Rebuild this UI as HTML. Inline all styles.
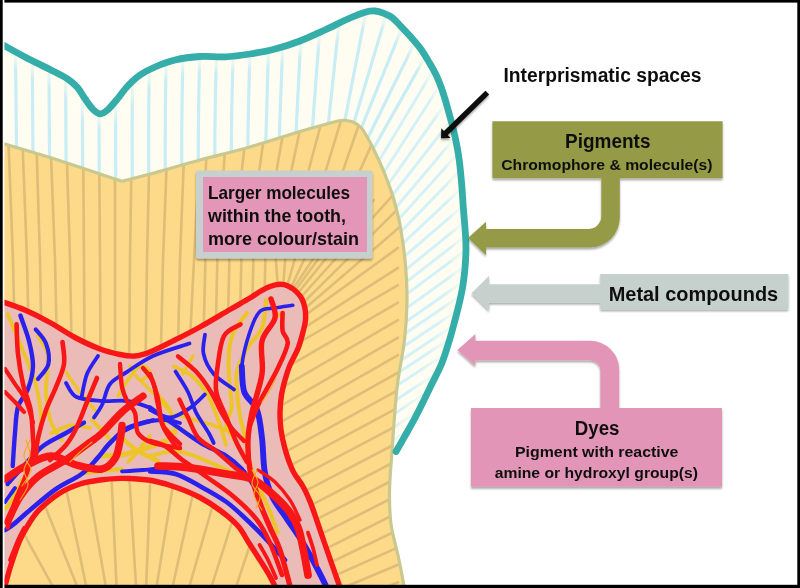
<!DOCTYPE html>
<html><head><meta charset="utf-8"><title>Tooth staining diagram</title>
<style>html,body{margin:0;padding:0;background:#fff}svg{display:block}text{font-family:"Liberation Sans",sans-serif;font-weight:bold;fill:#111}</style></head>
<body>
<svg width="800" height="588" viewBox="0 0 800 588">
<defs>
<clipPath id="cE"><path d="M3.0,45.0 C6.7,47.0 17.2,52.9 25.0,57.0 C32.8,61.1 42.9,65.9 50.0,69.5 C57.1,73.1 62.9,75.8 67.5,78.8 C72.1,81.8 74.6,84.2 77.5,87.5 C80.4,90.8 82.5,95.2 85.0,98.8 C87.5,102.3 90.0,106.3 92.5,108.8 C95.0,111.3 97.5,113.6 100.0,113.8 C102.5,114.0 104.6,112.5 107.5,110.0 C110.4,107.5 114.2,102.8 117.5,98.8 C120.8,94.8 123.8,90.3 127.5,86.3 C131.2,82.3 135.4,78.2 140.0,75.0 C144.6,71.8 149.2,69.5 155.0,67.0 C160.8,64.5 167.5,61.8 175.0,60.0 C182.5,58.2 191.7,57.0 200.0,56.5 C208.3,56.0 216.7,57.2 225.0,56.8 C233.3,56.4 241.7,55.3 250.0,54.0 C258.3,52.7 266.7,51.2 275.0,49.0 C283.3,46.8 291.7,44.2 300.0,41.0 C308.3,37.8 316.7,33.8 325.0,30.0 C333.3,26.2 343.3,20.9 350.0,18.0 C356.7,15.1 360.8,13.5 365.0,12.3 C369.2,11.1 371.9,10.8 375.0,11.0 C378.1,11.2 380.6,12.1 383.4,13.2 C386.2,14.3 389.2,15.4 392.0,17.5 C394.8,19.6 397.3,22.6 400.4,25.8 C403.5,29.0 407.1,32.8 410.6,36.8 C414.1,40.8 418.4,45.6 421.5,50.0 C424.6,54.4 427.1,58.9 429.5,63.0 C431.9,67.1 434.1,70.8 436.0,74.8 C437.9,78.8 439.5,82.7 441.0,86.7 C442.5,90.7 443.6,94.3 445.0,99.0 C446.4,103.7 448.0,109.5 449.5,115.0 C451.0,120.5 452.5,125.3 454.0,132.0 C455.5,138.7 457.2,146.7 458.5,155.0 C459.8,163.3 460.7,172.8 461.5,182.0 C462.3,191.2 462.8,201.2 463.5,210.0 C464.2,218.8 465.1,228.3 465.5,235.0 C465.9,241.7 466.1,244.5 466.0,250.0 C465.9,255.5 465.5,262.2 465.0,268.0 C464.5,273.8 463.8,279.7 463.0,285.0 C462.2,290.3 461.3,294.2 460.0,300.0 C458.7,305.8 456.8,313.3 455.0,320.0 C453.2,326.7 451.8,332.7 449.5,340.0 C447.2,347.3 444.8,356.1 441.5,364.0 C438.2,371.9 434.2,378.9 430.0,387.6 C425.8,396.3 420.3,407.7 416.0,416.0 C411.7,424.3 407.3,431.7 404.0,437.6 C400.7,443.5 397.3,449.2 396.0,451.5 L392,455 L392,600 L0,600 Z"/></clipPath>
<clipPath id="cD"><path d="M3.0,143.5 C10.8,145.8 33.8,152.4 50.0,157.5 C66.2,162.6 88.7,170.2 100.0,174.0 C111.3,177.8 114.3,178.8 118.0,180.0 C121.7,181.2 120.5,181.0 122.0,181.0 C123.5,181.0 122.3,181.2 127.0,180.0 C131.7,178.8 137.8,177.3 150.0,174.0 C162.2,170.7 183.3,164.5 200.0,160.0 C216.7,155.5 233.3,151.8 250.0,147.0 C266.7,142.2 287.5,135.2 300.0,131.5 C312.5,127.8 318.7,126.2 325.0,124.5 C331.3,122.8 334.5,121.7 338.0,121.0 C341.5,120.3 343.3,120.2 346.0,120.5 C348.7,120.8 351.5,121.3 354.0,122.5 C356.5,123.7 359.0,125.4 361.0,127.5 C363.0,129.6 364.2,131.9 366.0,135.0 C367.8,138.1 369.2,140.3 372.0,146.0 C374.8,151.7 379.7,162.0 382.7,169.0 C385.7,176.0 388.1,182.8 390.0,188.0 C391.9,193.2 392.3,193.8 394.0,200.0 C395.7,206.2 398.2,215.0 400.0,225.0 C401.8,235.0 403.8,247.5 405.0,260.0 C406.2,272.5 407.1,286.7 407.0,300.0 C406.9,313.3 406.2,325.3 404.5,340.0 C402.8,354.7 399.1,369.3 397.0,388.0 C394.9,406.7 393.2,435.0 392.0,452.0 C390.8,469.0 389.7,478.0 389.5,490.0 C389.3,502.0 389.5,512.7 391.0,524.0 C392.5,535.3 396.4,547.7 398.6,558.0 C400.8,568.3 403.1,581.3 404.0,586.0 L404,600 L0,600 Z"/></clipPath>
<clipPath id="cP"><path d="M3.0,302.0 C6.7,303.3 17.2,306.6 25.0,310.0 C32.8,313.4 41.7,317.9 50.0,322.5 C58.3,327.1 66.7,333.1 75.0,337.5 C83.3,341.9 92.5,346.2 100.0,349.0 C107.5,351.8 114.2,353.3 120.0,354.5 C125.8,355.7 130.0,356.4 135.0,356.0 C140.0,355.6 143.3,354.7 150.0,352.0 C156.7,349.3 166.7,344.2 175.0,340.0 C183.3,335.8 190.8,332.1 200.0,327.0 C209.2,321.9 221.7,314.3 230.0,309.5 C238.3,304.7 245.0,301.0 250.0,298.0 C255.0,295.0 256.7,293.4 260.0,291.5 C263.3,289.6 266.7,287.7 270.0,286.5 C273.3,285.3 277.0,284.4 280.0,284.3 C283.0,284.2 285.3,284.8 288.0,286.0 C290.7,287.2 293.7,289.2 296.0,291.4 C298.3,293.6 300.5,296.1 302.0,299.0 C303.5,301.9 304.4,305.0 305.0,308.5 C305.6,312.0 305.8,316.1 305.5,320.0 C305.2,323.9 304.2,327.2 303.0,332.0 C301.8,336.8 300.2,343.0 298.0,348.5 C295.8,354.0 292.2,359.8 290.0,365.0 C287.8,370.2 286.4,375.0 285.0,380.0 C283.6,385.0 282.3,389.7 281.5,395.0 C280.7,400.3 280.1,406.2 280.0,412.0 C279.9,417.8 280.2,424.2 281.0,430.0 C281.8,435.8 283.2,442.0 284.5,447.0 C285.8,452.0 286.9,455.7 288.5,460.0 C290.1,464.3 291.6,468.7 294.0,473.0 C296.4,477.3 300.0,481.3 302.7,486.0 C305.4,490.7 307.6,495.6 310.0,501.4 C312.4,507.2 314.6,514.1 317.0,521.0 C319.4,527.9 322.0,535.7 324.5,543.0 C327.0,550.3 329.5,557.4 332.0,564.6 C334.5,571.8 338.2,582.4 339.5,586.0 L275,586 L275.0,586.0 C273.8,583.8 270.8,577.8 268.0,573.0 C265.2,568.2 261.3,562.2 258.0,557.0 C254.7,551.8 251.3,546.7 248.0,541.5 C244.7,536.3 242.5,531.1 238.0,526.0 C233.5,520.9 227.3,515.8 221.0,511.0 C214.7,506.2 207.2,501.3 200.0,497.5 C192.8,493.7 185.7,490.8 178.0,488.0 C170.3,485.2 161.8,482.6 154.0,481.0 C146.2,479.4 136.6,479.0 131.0,478.6 C125.4,478.2 125.7,478.2 120.5,478.4 C115.3,478.6 106.8,479.1 100.0,480.0 C93.2,480.9 86.7,481.8 80.0,484.0 C73.3,486.2 66.7,488.8 60.0,493.0 C53.3,497.2 45.0,504.2 40.0,509.0 C35.0,513.8 33.3,516.8 30.0,522.0 C26.7,527.2 23.2,532.8 20.0,540.0 C16.8,547.2 13.5,557.3 11.0,565.0 C8.5,572.7 6.0,582.5 5.0,586.0 L3,590 Z"/></clipPath>
<filter id="sh" x="-10%" y="-10%" width="120%" height="130%"><feGaussianBlur in="SourceAlpha" stdDeviation="1.2"/><feOffset dx="0" dy="1.5"/><feComponentTransfer><feFuncA type="linear" slope="0.35"/></feComponentTransfer><feMerge><feMergeNode/><feMergeNode in="SourceGraphic"/></feMerge></filter>
<filter id="bl"><feGaussianBlur stdDeviation="0.7"/></filter>
<filter id="bl3" x="-20%" y="-20%" width="140%" height="140%"><feGaussianBlur stdDeviation="3"/></filter>
<filter id="soft" x="0" y="0" width="100%" height="100%" filterUnits="userSpaceOnUse"><feGaussianBlur stdDeviation="0.45"/></filter>
</defs>
<rect width="800" height="588" fill="#fff"/>
<g filter="url(#soft)">
<path d="M3.0,45.0 C6.7,47.0 17.2,52.9 25.0,57.0 C32.8,61.1 42.9,65.9 50.0,69.5 C57.1,73.1 62.9,75.8 67.5,78.8 C72.1,81.8 74.6,84.2 77.5,87.5 C80.4,90.8 82.5,95.2 85.0,98.8 C87.5,102.3 90.0,106.3 92.5,108.8 C95.0,111.3 97.5,113.6 100.0,113.8 C102.5,114.0 104.6,112.5 107.5,110.0 C110.4,107.5 114.2,102.8 117.5,98.8 C120.8,94.8 123.8,90.3 127.5,86.3 C131.2,82.3 135.4,78.2 140.0,75.0 C144.6,71.8 149.2,69.5 155.0,67.0 C160.8,64.5 167.5,61.8 175.0,60.0 C182.5,58.2 191.7,57.0 200.0,56.5 C208.3,56.0 216.7,57.2 225.0,56.8 C233.3,56.4 241.7,55.3 250.0,54.0 C258.3,52.7 266.7,51.2 275.0,49.0 C283.3,46.8 291.7,44.2 300.0,41.0 C308.3,37.8 316.7,33.8 325.0,30.0 C333.3,26.2 343.3,20.9 350.0,18.0 C356.7,15.1 360.8,13.5 365.0,12.3 C369.2,11.1 371.9,10.8 375.0,11.0 C378.1,11.2 380.6,12.1 383.4,13.2 C386.2,14.3 389.2,15.4 392.0,17.5 C394.8,19.6 397.3,22.6 400.4,25.8 C403.5,29.0 407.1,32.8 410.6,36.8 C414.1,40.8 418.4,45.6 421.5,50.0 C424.6,54.4 427.1,58.9 429.5,63.0 C431.9,67.1 434.1,70.8 436.0,74.8 C437.9,78.8 439.5,82.7 441.0,86.7 C442.5,90.7 443.6,94.3 445.0,99.0 C446.4,103.7 448.0,109.5 449.5,115.0 C451.0,120.5 452.5,125.3 454.0,132.0 C455.5,138.7 457.2,146.7 458.5,155.0 C459.8,163.3 460.7,172.8 461.5,182.0 C462.3,191.2 462.8,201.2 463.5,210.0 C464.2,218.8 465.1,228.3 465.5,235.0 C465.9,241.7 466.1,244.5 466.0,250.0 C465.9,255.5 465.5,262.2 465.0,268.0 C464.5,273.8 463.8,279.7 463.0,285.0 C462.2,290.3 461.3,294.2 460.0,300.0 C458.7,305.8 456.8,313.3 455.0,320.0 C453.2,326.7 451.8,332.7 449.5,340.0 C447.2,347.3 444.8,356.1 441.5,364.0 C438.2,371.9 434.2,378.9 430.0,387.6 C425.8,396.3 420.3,407.7 416.0,416.0 C411.7,424.3 407.3,431.7 404.0,437.6 C400.7,443.5 397.3,449.2 396.0,451.5 L392,455 L392,600 L0,600 Z" fill="#FFFDF1"/>
<g clip-path="url(#cE)" stroke="#C8EDF6" stroke-width="3.2" fill="none" stroke-linecap="round" filter="url(#bl)">
<path d="M17.0,200 Q16.0,120 15.3,30"/>
<path d="M33.5,200 Q32.5,120 32.2,30"/>
<path d="M50.0,200 Q49.0,120 49.0,30"/>
<path d="M66.5,200 Q65.5,120 65.8,30"/>
<path d="M83.0,200 Q82.0,120 82.7,30"/>
<path d="M99.5,200 Q98.5,120 99.5,30"/>
<path d="M116.0,200 Q115.0,120 116.3,30"/>
<path d="M132.5,200 Q131.5,120 133.2,30"/>
<path d="M149.0,200 Q148.0,120 150.0,30"/>
<path d="M165.5,200 Q164.5,120 166.8,30"/>
<path d="M182.0,200 Q181.0,120 183.6,30"/>
<path d="M198.5,200 Q197.5,120 200.5,30"/>
<path d="M215.0,200 Q214.0,120 217.3,30"/>
<path d="M231.5,200 Q230.5,120 234.1,30"/>
<path d="M248.0,200 Q247.0,120 251.0,30"/>
<path d="M265.7,145.3 L269.5,12.3"/>
<path d="M279.1,141.0 L284.1,8.1"/>
<path d="M295.9,135.7 L302.5,2.9"/>
<path d="M312.2,130.9 L322.1,-1.7"/>
<path d="M328.1,126.5 L342.0,-5.8"/>
<path d="M344.3,123.4 L369.6,-7.2"/>
<path d="M353.1,125.4 L391.2,-2.1"/>
<path d="M360.2,130.6 L410.3,7.4"/>
<path d="M366.5,140.8 L425.0,21.4"/>
<path d="M371.9,151.5 L437.1,35.6"/>
<path d="M377.5,163.3 L445.8,49.3" stroke="#D3F1F8" stroke-width="2.9"/>
<path d="M382.4,174.7 L454.3,62.8" stroke="#D3F1F8" stroke-width="2.9"/>
<path d="M386.7,186.3 L463.8,77.8" stroke="#D3F1F8" stroke-width="2.9"/>
<path d="M390.7,197.5 L472.5,92.6" stroke="#D3F1F8" stroke-width="2.9"/>
<path d="M394.1,209.7 L479.9,108.1" stroke="#D3F1F8" stroke-width="2.9"/>
<path d="M396.8,221.4 L485.9,122.7" stroke="#D3F1F8" stroke-width="2.9"/>
<path d="M399.0,233.4 L491.8,138.2" stroke="#D3F1F8" stroke-width="2.9"/>
<path d="M400.8,245.4 L497.6,154.2" stroke="#D3F1F8" stroke-width="2.9"/>
<path d="M402.4,258.2 L503.1,171.4" stroke="#D3F1F8" stroke-width="2.9"/>
<path d="M403.5,271.5 L506.8,187.8" stroke="#D3F1F8" stroke-width="2.9"/>
<path d="M404.2,283.6 L509.3,202.0" stroke="#D3F1F8" stroke-width="2.9"/>
<path d="M404.6,295.7 L511.3,216.4" stroke="#D3F1F8" stroke-width="2.9"/>
<path d="M404.4,309.6 L512.6,232.2" stroke="#D3F1F8" stroke-width="2.9"/>
<path d="M403.8,323.2 L512.8,247.0" stroke="#D3F1F8" stroke-width="2.9"/>
<path d="M402.7,335.3 L512.6,260.3" stroke="#D3F1F8" stroke-width="2.9"/>
<path d="M401.1,348.3 L511.6,274.2" stroke="#D3F1F8" stroke-width="2.9"/>
<path d="M398.8,361.8 L509.6,288.3" stroke="#D3F1F8" stroke-width="2.9"/>
<path d="M396.7,373.8 L507.8,300.7" stroke="#D3F1F8" stroke-width="2.9"/>
<path d="M394.8,386.9 L506.3,314.3" stroke="#D3F1F8" stroke-width="2.9"/>
<path d="M393.3,401.8 L504.4,328.7" stroke="#D3F1F8" stroke-width="2.9"/>
<path d="M392.2,415.4 L502.7,341.4" stroke="#D3F1F8" stroke-width="2.9"/>
<path d="M391.2,429.2 L501.2,354.4" stroke="#D3F1F8" stroke-width="2.9"/>
<path d="M390.3,442.3 L499.8,366.7" stroke="#D3F1F8" stroke-width="2.9"/>
<path d="M389.4,456.2 L498.3,379.9" stroke="#D3F1F8" stroke-width="2.9"/>
</g>
<g clip-path="url(#cE)"><path d="M3.0,45.0 C6.7,47.0 17.2,52.9 25.0,57.0 C32.8,61.1 42.9,65.9 50.0,69.5 C57.1,73.1 62.9,75.8 67.5,78.8 C72.1,81.8 74.6,84.2 77.5,87.5 C80.4,90.8 82.5,95.2 85.0,98.8 C87.5,102.3 90.0,106.3 92.5,108.8 C95.0,111.3 97.5,113.6 100.0,113.8 C102.5,114.0 104.6,112.5 107.5,110.0 C110.4,107.5 114.2,102.8 117.5,98.8 C120.8,94.8 123.8,90.3 127.5,86.3 C131.2,82.3 135.4,78.2 140.0,75.0 C144.6,71.8 149.2,69.5 155.0,67.0 C160.8,64.5 167.5,61.8 175.0,60.0 C182.5,58.2 191.7,57.0 200.0,56.5 C208.3,56.0 216.7,57.2 225.0,56.8 C233.3,56.4 241.7,55.3 250.0,54.0 C258.3,52.7 266.7,51.2 275.0,49.0 C283.3,46.8 291.7,44.2 300.0,41.0 C308.3,37.8 316.7,33.8 325.0,30.0 C333.3,26.2 343.3,20.9 350.0,18.0 C356.7,15.1 360.8,13.5 365.0,12.3 C369.2,11.1 371.9,10.8 375.0,11.0 C378.1,11.2 380.6,12.1 383.4,13.2 C386.2,14.3 389.2,15.4 392.0,17.5 C394.8,19.6 397.3,22.6 400.4,25.8 C403.5,29.0 407.1,32.8 410.6,36.8 C414.1,40.8 418.4,45.6 421.5,50.0 C424.6,54.4 427.1,58.9 429.5,63.0 C431.9,67.1 434.1,70.8 436.0,74.8 C437.9,78.8 439.5,82.7 441.0,86.7 C442.5,90.7 443.6,94.3 445.0,99.0 C446.4,103.7 448.0,109.5 449.5,115.0 C451.0,120.5 452.5,125.3 454.0,132.0 C455.5,138.7 457.2,146.7 458.5,155.0 C459.8,163.3 460.7,172.8 461.5,182.0 C462.3,191.2 462.8,201.2 463.5,210.0 C464.2,218.8 465.1,228.3 465.5,235.0 C465.9,241.7 466.1,244.5 466.0,250.0 C465.9,255.5 465.5,262.2 465.0,268.0 C464.5,273.8 463.8,279.7 463.0,285.0 C462.2,290.3 461.3,294.2 460.0,300.0 C458.7,305.8 456.8,313.3 455.0,320.0 C453.2,326.7 451.8,332.7 449.5,340.0 C447.2,347.3 444.8,356.1 441.5,364.0 C438.2,371.9 434.2,378.9 430.0,387.6 C425.8,396.3 420.3,407.7 416.0,416.0 C411.7,424.3 407.3,431.7 404.0,437.6 C400.7,443.5 397.3,449.2 396.0,451.5" fill="none" stroke="#FFFDF1" stroke-width="24" opacity="0.6" filter="url(#bl3)"/></g>
<path d="M3.0,143.5 C10.8,145.8 33.8,152.4 50.0,157.5 C66.2,162.6 88.7,170.2 100.0,174.0 C111.3,177.8 114.3,178.8 118.0,180.0 C121.7,181.2 120.5,181.0 122.0,181.0 C123.5,181.0 122.3,181.2 127.0,180.0 C131.7,178.8 137.8,177.3 150.0,174.0 C162.2,170.7 183.3,164.5 200.0,160.0 C216.7,155.5 233.3,151.8 250.0,147.0 C266.7,142.2 287.5,135.2 300.0,131.5 C312.5,127.8 318.7,126.2 325.0,124.5 C331.3,122.8 334.5,121.7 338.0,121.0 C341.5,120.3 343.3,120.2 346.0,120.5 C348.7,120.8 351.5,121.3 354.0,122.5 C356.5,123.7 359.0,125.4 361.0,127.5 C363.0,129.6 364.2,131.9 366.0,135.0 C367.8,138.1 369.2,140.3 372.0,146.0 C374.8,151.7 379.7,162.0 382.7,169.0 C385.7,176.0 388.1,182.8 390.0,188.0 C391.9,193.2 392.3,193.8 394.0,200.0 C395.7,206.2 398.2,215.0 400.0,225.0 C401.8,235.0 403.8,247.5 405.0,260.0 C406.2,272.5 407.1,286.7 407.0,300.0 C406.9,313.3 406.2,325.3 404.5,340.0 C402.8,354.7 399.1,369.3 397.0,388.0 C394.9,406.7 393.2,435.0 392.0,452.0 C390.8,469.0 389.7,478.0 389.5,490.0 C389.3,502.0 389.5,512.7 391.0,524.0 C392.5,535.3 396.4,547.7 398.6,558.0 C400.8,568.3 403.1,581.3 404.0,586.0 L404,600 L0,600 Z" fill="#FDD98A"/>
<g clip-path="url(#cD)" stroke="#DEBD78" stroke-width="2.6" fill="none" stroke-linecap="round" filter="url(#bl)">
<path d="M8.0,130 L13.0,260 L15.5,370"/>
<path d="M22.0,130 L27.0,260 L29.5,370"/>
<path d="M36.0,130 L40.0,260 L42.0,370"/>
<path d="M50.0,130 L55.0,260 L57.5,370"/>
<path d="M66.0,130 L70.0,260 L72.0,370"/>
<path d="M83.0,130 L84.0,260 L84.5,370"/>
<path d="M99.0,130 L100.0,260 L100.5,370"/>
<path d="M115.0,130 L115.0,260 L115.0,370"/>
<path d="M132.0,130 L130.0,260 L129.0,370"/>
<path d="M150.0,130 L147.0,260 L145.5,370"/>
<path d="M168.0,130 L163.0,260 L160.5,370"/>
<path d="M185.0,130 L180.0,260 L177.5,370"/>
<path d="M197.0,200 L190.0,340"/>
<path d="M205.5,255 L203.5,340"/>
<path d="M217.5,255 L215.5,340"/>
<path d="M229.5,255 L227.5,340"/>
<path d="M241.5,255 L239.5,340"/>
<path d="M253.5,255 L251.5,340"/>
<path d="M265.5,255 L263.5,340"/>
<path d="M205.5,179.0 L208.1,105.0"/>
<path d="M223.0,179.0 L228.2,105.1"/>
<path d="M241.0,178.9 L248.8,105.3"/>
<path d="M258.1,178.9 L268.4,105.6"/>
<path d="M275.1,178.8 L287.9,105.9"/>
<path d="M289.6,178.7 L305.0,106.3"/>
<path d="M306.4,178.5 L325.5,107.0"/>
<path d="M323.4,178.4 L345.0,107.6"/>
<path d="M340.4,178.2 L364.5,108.3"/>
<path d="M356.8,177.8 L386.9,110.2"/>
<path d="M277.8,286.0 L271.4,200.0"/>
<path d="M283.2,286.0 L289.6,200.0"/>
<path d="M286.9,286.8 L311.7,200.0"/>
<path d="M290.8,288.1 L331.9,200.0"/>
<path d="M292.8,289.3 L352.3,200.0"/>
<path d="M294.6,291.2 L361.7,200.0"/>
<path d="M297.0,294.1 L373.7,200.0"/>
<path d="M299.3,299.0 L436.0,147.5"/>
<path d="M301.2,304.8 L446.1,161.3"/>
<path d="M302.0,311.1 L456.5,178.0"/>
<path d="M302.6,317.1 L398.0,247.9"/>
<path d="M300.5,330.2 L398.0,267.8"/>
<path d="M296.5,344.0 L398.0,285.2"/>
<path d="M286.1,367.6 L398.0,302.7"/>
<path d="M279.7,388.8 L398.0,320.2"/>
<path d="M277.2,407.8 L398.0,337.7"/>
<path d="M277.4,424.1 L398.0,355.1"/>
<path d="M279.6,439.0 L398.0,372.6"/>
<path d="M283.2,453.2 L398.0,390.1"/>
<path d="M288.2,466.7 L398.0,407.6"/>
<path d="M295.2,479.4 L398.0,425.1"/>
<path d="M303.1,492.2 L398.0,442.5"/>
<path d="M308.8,506.3 L398.0,460.0"/>
<path d="M314.0,520.6 L398.0,477.5"/>
<path d="M318.9,535.2 L398.0,495.0"/>
<path d="M323.7,549.8 L398.0,512.5"/>
<path d="M328.6,563.4 L398.0,530.0"/>
<path d="M333.2,576.4 L398.0,547.4"/>
<path d="M340.8,588.7 L398.0,564.8"/>
<path d="M346.0,603.6 L398.0,582.3"/>
<path d="M351.2,618.5 L398.0,599.8"/>
<path d="M40.0,493.5 L88.6,615.0"/>
<path d="M62.5,471.5 L97.6,641.6"/>
<path d="M85.0,466.0 L112.0,622.6"/>
<path d="M110.5,455.5 L118.6,631.0"/>
<path d="M128.0,455.5 L138.8,631.0"/>
<path d="M151.2,455.5 L144.5,631.0"/>
<path d="M177.0,460.0 L150.0,627.4"/>
<path d="M198.0,470.5 L165.6,619.0"/>
<path d="M218.5,485.5 L183.4,607.0"/>
<path d="M238.0,503.0 L205.6,605.6"/>
<path d="M19.0,525.0 L78.4,633.0"/>
<path d="M255.0,530.0 L228.0,611.0"/>
</g>
<path d="M3.0,143.5 C10.8,145.8 33.8,152.4 50.0,157.5 C66.2,162.6 88.7,170.2 100.0,174.0 C111.3,177.8 114.3,178.8 118.0,180.0 C121.7,181.2 120.5,181.0 122.0,181.0 C123.5,181.0 122.3,181.2 127.0,180.0 C131.7,178.8 137.8,177.3 150.0,174.0 C162.2,170.7 183.3,164.5 200.0,160.0 C216.7,155.5 233.3,151.8 250.0,147.0 C266.7,142.2 287.5,135.2 300.0,131.5 C312.5,127.8 318.7,126.2 325.0,124.5 C331.3,122.8 334.5,121.7 338.0,121.0 C341.5,120.3 343.3,120.2 346.0,120.5 C348.7,120.8 351.5,121.3 354.0,122.5 C356.5,123.7 359.0,125.4 361.0,127.5 C363.0,129.6 364.2,131.9 366.0,135.0 C367.8,138.1 369.2,140.3 372.0,146.0 C374.8,151.7 379.7,162.0 382.7,169.0 C385.7,176.0 388.1,182.8 390.0,188.0 C391.9,193.2 392.3,193.8 394.0,200.0 C395.7,206.2 398.2,215.0 400.0,225.0 C401.8,235.0 403.8,247.5 405.0,260.0 C406.2,272.5 407.1,286.7 407.0,300.0 C406.9,313.3 406.2,325.3 404.5,340.0 C402.8,354.7 399.1,369.3 397.0,388.0 C394.9,406.7 393.2,435.0 392.0,452.0 C390.8,469.0 389.7,478.0 389.5,490.0 C389.3,502.0 389.5,512.7 391.0,524.0 C392.5,535.3 396.4,547.7 398.6,558.0 C400.8,568.3 403.1,581.3 404.0,586.0" fill="none" stroke="#C9C88F" stroke-width="3.2" stroke-linejoin="round"/>
<path d="M3.0,45.0 C6.7,47.0 17.2,52.9 25.0,57.0 C32.8,61.1 42.9,65.9 50.0,69.5 C57.1,73.1 62.9,75.8 67.5,78.8 C72.1,81.8 74.6,84.2 77.5,87.5 C80.4,90.8 82.5,95.2 85.0,98.8 C87.5,102.3 90.0,106.3 92.5,108.8 C95.0,111.3 97.5,113.6 100.0,113.8 C102.5,114.0 104.6,112.5 107.5,110.0 C110.4,107.5 114.2,102.8 117.5,98.8 C120.8,94.8 123.8,90.3 127.5,86.3 C131.2,82.3 135.4,78.2 140.0,75.0 C144.6,71.8 149.2,69.5 155.0,67.0 C160.8,64.5 167.5,61.8 175.0,60.0 C182.5,58.2 191.7,57.0 200.0,56.5 C208.3,56.0 216.7,57.2 225.0,56.8 C233.3,56.4 241.7,55.3 250.0,54.0 C258.3,52.7 266.7,51.2 275.0,49.0 C283.3,46.8 291.7,44.2 300.0,41.0 C308.3,37.8 316.7,33.8 325.0,30.0 C333.3,26.2 343.3,20.9 350.0,18.0 C356.7,15.1 360.8,13.5 365.0,12.3 C369.2,11.1 371.9,10.8 375.0,11.0 C378.1,11.2 380.6,12.1 383.4,13.2 C386.2,14.3 389.2,15.4 392.0,17.5 C394.8,19.6 397.3,22.6 400.4,25.8 C403.5,29.0 407.1,32.8 410.6,36.8 C414.1,40.8 418.4,45.6 421.5,50.0 C424.6,54.4 427.1,58.9 429.5,63.0 C431.9,67.1 434.1,70.8 436.0,74.8 C437.9,78.8 439.5,82.7 441.0,86.7 C442.5,90.7 443.6,94.3 445.0,99.0 C446.4,103.7 448.0,109.5 449.5,115.0 C451.0,120.5 452.5,125.3 454.0,132.0 C455.5,138.7 457.2,146.7 458.5,155.0 C459.8,163.3 460.7,172.8 461.5,182.0 C462.3,191.2 462.8,201.2 463.5,210.0 C464.2,218.8 465.1,228.3 465.5,235.0 C465.9,241.7 466.1,244.5 466.0,250.0 C465.9,255.5 465.5,262.2 465.0,268.0 C464.5,273.8 463.8,279.7 463.0,285.0 C462.2,290.3 461.3,294.2 460.0,300.0 C458.7,305.8 456.8,313.3 455.0,320.0 C453.2,326.7 451.8,332.7 449.5,340.0 C447.2,347.3 444.8,356.1 441.5,364.0 C438.2,371.9 434.2,378.9 430.0,387.6 C425.8,396.3 420.3,407.7 416.0,416.0 C411.7,424.3 407.3,431.7 404.0,437.6 C400.7,443.5 397.3,449.2 396.0,451.5" fill="none" stroke="#35ADA9" stroke-width="6.8" stroke-linecap="round" stroke-linejoin="round"/>
<path d="M3.0,302.0 C6.7,303.3 17.2,306.6 25.0,310.0 C32.8,313.4 41.7,317.9 50.0,322.5 C58.3,327.1 66.7,333.1 75.0,337.5 C83.3,341.9 92.5,346.2 100.0,349.0 C107.5,351.8 114.2,353.3 120.0,354.5 C125.8,355.7 130.0,356.4 135.0,356.0 C140.0,355.6 143.3,354.7 150.0,352.0 C156.7,349.3 166.7,344.2 175.0,340.0 C183.3,335.8 190.8,332.1 200.0,327.0 C209.2,321.9 221.7,314.3 230.0,309.5 C238.3,304.7 245.0,301.0 250.0,298.0 C255.0,295.0 256.7,293.4 260.0,291.5 C263.3,289.6 266.7,287.7 270.0,286.5 C273.3,285.3 277.0,284.4 280.0,284.3 C283.0,284.2 285.3,284.8 288.0,286.0 C290.7,287.2 293.7,289.2 296.0,291.4 C298.3,293.6 300.5,296.1 302.0,299.0 C303.5,301.9 304.4,305.0 305.0,308.5 C305.6,312.0 305.8,316.1 305.5,320.0 C305.2,323.9 304.2,327.2 303.0,332.0 C301.8,336.8 300.2,343.0 298.0,348.5 C295.8,354.0 292.2,359.8 290.0,365.0 C287.8,370.2 286.4,375.0 285.0,380.0 C283.6,385.0 282.3,389.7 281.5,395.0 C280.7,400.3 280.1,406.2 280.0,412.0 C279.9,417.8 280.2,424.2 281.0,430.0 C281.8,435.8 283.2,442.0 284.5,447.0 C285.8,452.0 286.9,455.7 288.5,460.0 C290.1,464.3 291.6,468.7 294.0,473.0 C296.4,477.3 300.0,481.3 302.7,486.0 C305.4,490.7 307.6,495.6 310.0,501.4 C312.4,507.2 314.6,514.1 317.0,521.0 C319.4,527.9 322.0,535.7 324.5,543.0 C327.0,550.3 329.5,557.4 332.0,564.6 C334.5,571.8 338.2,582.4 339.5,586.0 L275,586 L275.0,586.0 C273.8,583.8 270.8,577.8 268.0,573.0 C265.2,568.2 261.3,562.2 258.0,557.0 C254.7,551.8 251.3,546.7 248.0,541.5 C244.7,536.3 242.5,531.1 238.0,526.0 C233.5,520.9 227.3,515.8 221.0,511.0 C214.7,506.2 207.2,501.3 200.0,497.5 C192.8,493.7 185.7,490.8 178.0,488.0 C170.3,485.2 161.8,482.6 154.0,481.0 C146.2,479.4 136.6,479.0 131.0,478.6 C125.4,478.2 125.7,478.2 120.5,478.4 C115.3,478.6 106.8,479.1 100.0,480.0 C93.2,480.9 86.7,481.8 80.0,484.0 C73.3,486.2 66.7,488.8 60.0,493.0 C53.3,497.2 45.0,504.2 40.0,509.0 C35.0,513.8 33.3,516.8 30.0,522.0 C26.7,527.2 23.2,532.8 20.0,540.0 C16.8,547.2 13.5,557.3 11.0,565.0 C8.5,572.7 6.0,582.5 5.0,586.0 L3,590 Z" fill="#EABBB7"/>
<g clip-path="url(#cP)" fill="none" stroke-linecap="round" stroke-linejoin="round"><g stroke="#ECC52B"><path d="M7.6,314.0 C10.2,320.2 18.3,339.3 23.0,351.0 C27.7,362.7 32.7,372.9 35.7,384.0 C38.7,395.1 40.6,408.2 41.0,417.5 C41.4,426.8 40.2,431.2 38.0,440.0 C35.8,448.8 32.3,460.0 28.0,470.0 C23.7,480.0 14.7,495.0 12.0,500.0" stroke-width="3.8"/><path d="M38.0,336.0 C39.7,339.3 46.7,346.7 48.0,356.0 C49.3,365.3 45.5,381.0 46.0,392.0 C46.5,403.0 48.3,414.0 51.0,422.0 C53.7,430.0 60.2,437.0 62.0,440.0" stroke-width="3.8"/><path d="M266.0,300.0 C265.3,304.7 265.2,319.9 262.0,328.0 C258.8,336.1 251.2,340.9 247.0,348.6 C242.8,356.3 238.0,363.8 236.7,374.0 C235.4,384.2 237.8,400.2 239.0,410.0 C240.2,419.8 241.8,422.8 244.0,433.0 C246.2,443.2 249.4,461.7 252.0,471.0 C254.6,480.3 256.6,482.2 259.6,489.0 C262.6,495.8 267.0,504.7 270.0,512.0 C273.0,519.3 276.2,529.2 277.5,532.6" stroke-width="4.1"/><path d="M247.0,313.0 C244.8,316.0 237.0,324.7 234.0,331.0 C231.0,337.3 229.8,343.4 229.0,351.0 C228.2,358.6 228.6,367.4 229.0,376.7 C229.4,386.0 232.0,398.9 231.6,407.0 C231.2,415.1 225.7,419.5 226.5,425.5 C227.3,431.5 235.0,440.1 236.7,443.0" stroke-width="4.1"/><path d="M174.0,366.5 C177.2,368.2 187.2,371.6 193.0,376.7 C198.8,381.8 203.9,388.5 208.6,397.0 C213.3,405.5 218.1,419.7 221.0,427.7 C223.9,435.7 225.2,442.1 226.0,445.0" stroke-width="3.8"/><path d="M193.0,356.0 C191.3,359.0 184.7,371.0 183.0,374.0" stroke-width="3.2"/><path d="M155.0,392.0 C157.5,395.0 166.7,403.2 170.0,410.0 C173.3,416.8 176.2,430.4 175.0,433.0 C173.8,435.6 164.8,426.8 162.7,425.5" stroke-width="3.8"/><path d="M102.0,456.0 C105.0,455.8 114.0,455.8 120.0,455.0 C126.0,454.2 132.7,452.5 138.0,451.0 C143.3,449.5 147.3,447.7 152.0,446.0 C156.7,444.3 163.7,441.8 166.0,441.0" stroke-width="5.1"/><path d="M122.0,438.0 C124.7,440.2 132.0,447.2 138.0,451.0 C144.0,454.8 154.7,459.3 158.0,461.0" stroke-width="4.5"/><path d="M128.0,462.0 C129.7,460.2 134.3,455.3 138.0,451.0 C141.7,446.7 148.0,438.5 150.0,436.0" stroke-width="3.8"/><path d="M92.0,420.0 C93.7,421.8 98.7,427.1 102.0,430.6 C105.3,434.1 110.3,439.3 112.0,441.0" stroke-width="3.8"/><path d="M51.0,433.0 C54.3,431.8 64.5,426.3 71.0,425.5 C77.5,424.7 86.8,427.6 90.0,428.0" stroke-width="3.8"/><path d="M79.0,474.0 C82.8,473.5 94.8,471.8 102.0,471.0 C109.2,470.2 118.7,469.3 122.0,469.0" stroke-width="3.8"/><path d="M150.0,456.0 C154.2,455.2 167.0,450.6 175.5,451.0 C184.0,451.4 192.5,455.4 201.0,458.6 C209.5,461.8 219.2,466.8 226.5,470.0 C233.8,473.2 241.9,476.7 245.0,478.0" stroke-width="4.1"/><path d="M162.7,425.5 C164.8,423.8 170.1,415.9 175.5,415.0 C180.9,414.1 188.6,418.2 195.0,420.0 C201.4,421.8 208.2,423.7 213.7,425.5 C219.2,427.3 225.6,430.1 228.0,431.0" stroke-width="3.8"/><path d="M130.0,366.0 C131.7,368.3 136.7,379.0 140.0,380.0 C143.3,381.0 150.0,374.3 150.0,372.0 C150.0,369.7 143.7,364.7 140.0,366.0 C136.3,367.3 131.7,375.0 128.0,380.0 C124.3,385.0 119.7,393.3 118.0,396.0" stroke-width="3.3"/><path d="M66.0,372.0 C68.3,375.3 75.2,385.7 80.0,392.0 C84.8,398.3 92.5,407.0 95.0,410.0" stroke-width="3.3"/><path d="M140.0,380.0 C143.0,383.0 153.0,392.7 158.0,398.0 C163.0,403.3 168.0,409.7 170.0,412.0" stroke-width="3.3"/><path d="M5.0,509.0 C6.7,507.0 12.2,501.8 15.0,497.0 C17.8,492.2 20.8,482.8 22.0,480.0" stroke-width="3.8"/><path d="M275.0,318.0 C276.3,317.0 281.7,313.0 283.0,312.0" stroke-width="3.2"/></g><g stroke="#2B22EC"><path d="M20.4,315.5 C21.8,319.8 26.9,332.5 29.0,341.0 C31.1,349.5 33.2,358.5 33.0,366.5 C32.8,374.5 30.5,382.2 28.0,389.0 C25.5,395.8 20.2,399.7 18.0,407.0 C15.8,414.3 15.9,423.2 15.0,433.0 C14.1,442.8 13.1,460.5 12.7,466.0" stroke-width="4.4"/><path d="M35.7,329.5 C37.4,331.8 43.9,337.8 46.0,343.5 C48.1,349.2 49.7,358.1 48.4,364.0 C47.1,369.9 39.7,376.5 38.0,379.0" stroke-width="4.1"/><path d="M98.0,356.0 C96.2,359.0 89.7,367.2 87.0,374.0 C84.3,380.8 82.5,393.2 81.6,397.0" stroke-width="3.8"/><path d="M66.0,383.0 C67.8,385.3 70.5,394.0 76.5,397.0 C82.5,400.0 93.5,400.3 102.0,401.0 C110.5,401.7 119.5,399.9 127.5,401.0 C135.5,402.1 146.2,406.5 150.0,407.6" stroke-width="3.8"/><path d="M189.5,343.5 C183.4,345.6 163.3,351.3 153.0,356.0 C142.7,360.7 134.7,366.9 127.5,371.6 C120.3,376.3 114.2,378.4 110.0,384.0 C105.8,389.6 104.7,399.4 102.0,405.0 C99.3,410.6 95.3,415.4 94.0,417.5" stroke-width="3.8"/><path d="M84.0,422.6 C81.0,424.3 72.8,429.1 66.0,433.0 C59.2,436.9 49.8,440.8 43.0,446.0 C36.2,451.2 31.4,457.7 25.5,464.0 C19.6,470.3 10.6,480.7 7.6,484.0" stroke-width="4.4"/><path d="M120.0,433.0 C123.8,431.3 135.5,424.8 143.0,422.6 C150.5,420.4 158.8,419.9 165.0,420.0 C171.2,420.1 177.5,422.5 180.0,423.0" stroke-width="3.8"/><path d="M205.0,334.6 C204.8,337.8 202.1,347.1 203.5,353.7 C204.9,360.3 208.6,368.1 213.7,374.0 C218.8,379.9 230.6,386.8 234.0,389.4" stroke-width="3.8"/><path d="M292.8,305.3 C289.8,305.8 280.5,306.9 275.0,308.0 C269.5,309.1 263.9,307.5 259.6,311.7 C255.3,315.9 252.4,324.2 249.4,333.3 C246.4,342.4 242.7,356.7 241.8,366.5 C241.0,376.3 243.9,387.8 244.3,392.0" stroke-width="3.6"/><path d="M241.8,366.5 C242.2,370.8 241.8,384.8 244.3,392.0 C246.8,399.2 254.1,402.1 257.0,409.8 C259.9,417.5 260.7,427.7 262.0,438.0 C263.3,448.3 263.0,461.6 264.7,471.4 C266.4,481.2 268.6,488.9 272.4,497.0 C276.2,505.1 282.6,512.3 287.7,520.0 C292.8,527.7 297.9,534.7 303.0,543.0 C308.1,551.3 314.2,562.8 318.0,570.0 C321.8,577.2 324.7,583.3 326.0,586.0" stroke-width="5.9"/><path d="M175.5,371.6 C177.6,375.0 184.6,385.2 188.0,392.0 C191.4,398.8 192.6,405.6 196.0,412.4 C199.4,419.2 205.7,427.7 208.6,432.8 C211.5,437.9 212.8,441.3 213.7,443.0" stroke-width="3.8"/><path d="M150.0,410.0 C153.4,411.2 163.6,417.9 170.4,417.5 C177.2,417.1 185.1,411.1 190.8,407.3 C196.5,403.5 202.5,396.6 204.8,394.5" stroke-width="3.8"/><path d="M5.0,530.0 C6.3,529.2 8.4,528.4 12.7,525.0 C17.0,521.6 23.4,515.6 30.6,509.6 C37.8,503.6 47.5,494.9 56.0,489.0 C64.5,483.1 74.8,479.1 81.6,474.0 C88.4,468.9 92.3,463.8 97.0,458.6 C101.7,453.4 104.9,448.1 110.0,443.0 C115.1,437.9 120.3,431.8 127.5,428.0 C134.7,424.2 148.8,421.7 153.0,420.4" stroke-width="4.6"/><path d="M122.0,471.4 C125.5,471.2 136.7,470.6 143.0,470.0 C149.3,469.4 157.2,468.3 160.0,468.0" stroke-width="3.8"/><path d="M150.0,407.6 C154.2,410.6 167.0,419.6 175.5,425.5 C184.0,431.4 192.5,437.9 201.0,443.0 C209.5,448.1 219.7,451.7 226.5,456.0 C233.3,460.3 237.2,464.0 241.8,469.0 C246.4,474.0 252.0,483.2 254.0,486.0" stroke-width="4.4"/><path d="M150.0,471.4 C154.2,471.8 167.0,471.4 175.5,474.0 C184.0,476.6 192.5,482.0 201.0,486.7 C209.5,491.4 218.8,496.4 226.5,502.0 C234.2,507.6 240.6,514.0 247.0,520.0 C253.4,526.0 258.4,531.0 264.7,537.7 C271.0,544.4 281.6,556.3 285.0,560.0" stroke-width="4.6"/><path d="M5.0,502.0 C6.7,499.7 13.3,490.3 15.0,488.0" stroke-width="3.8"/></g><g stroke="#F81418"><path d="M16.6,324.4 C16.8,329.3 16.9,344.1 18.0,354.0 C19.1,363.9 20.9,374.7 23.0,384.0 C25.1,393.3 28.9,401.0 30.6,410.0 C32.3,419.0 32.6,431.2 33.0,438.0 C33.4,444.8 34.2,444.6 33.0,451.0 C31.8,457.4 28.5,468.0 25.5,476.5 C22.5,485.0 18.0,493.5 15.0,502.0 C12.0,510.5 8.8,523.2 7.6,527.5" stroke-width="4.6"/><path d="M62.5,342.0 C62.8,345.7 65.1,356.5 64.0,364.0 C62.9,371.5 59.0,379.3 56.0,387.0 C53.0,394.7 49.0,401.5 46.0,410.0 C43.0,418.5 39.7,430.5 38.0,438.0 C36.3,445.5 36.3,452.2 36.0,455.0" stroke-width="4.6"/><path d="M5.0,369.0 C6.7,371.5 11.6,378.8 15.0,384.0 C18.4,389.2 22.5,393.6 25.5,400.0 C28.5,406.4 31.8,418.8 33.0,422.6" stroke-width="4.1"/><path d="M5.0,392.0 C6.7,393.7 11.8,398.7 15.0,402.0 C18.2,405.3 22.5,410.3 24.0,412.0" stroke-width="4.1"/><path d="M97.0,378.0 C95.3,382.0 90.4,393.7 87.0,402.0 C83.6,410.3 80.0,420.5 76.5,427.7 C73.0,434.9 70.4,439.6 66.0,445.0 C61.6,450.4 52.7,457.5 50.0,460.0" stroke-width="4.6"/><path d="M120.0,364.0 C120.3,367.8 120.8,380.7 122.0,387.0 C123.2,393.3 125.3,397.7 127.5,402.0 C129.7,406.3 133.2,407.8 135.0,413.0 C136.8,418.2 135.0,428.0 138.0,433.0 C141.0,438.0 146.0,440.5 153.0,443.0 C160.0,445.5 175.5,447.2 180.0,448.0" stroke-width="4.4"/><path d="M143.0,396.0 C139.5,398.7 128.8,405.8 122.0,412.0 C115.2,418.2 107.5,427.8 102.0,433.0 C96.5,438.2 95.3,438.3 89.0,443.0 C82.7,447.7 72.5,455.4 64.0,461.0 C55.5,466.6 45.3,470.5 38.0,476.5 C30.7,482.5 25.1,489.4 20.0,497.0 C14.9,504.6 9.7,517.8 7.6,522.0" stroke-width="7.2"/><path d="M143.0,368.0 C144.7,370.3 150.5,375.8 153.0,382.0 C155.5,388.2 156.3,397.8 158.0,405.0 C159.7,412.2 159.3,419.0 163.0,425.5 C166.7,432.0 177.2,440.9 180.0,444.0" stroke-width="4.4"/><path d="M5.0,479.0 C8.4,476.8 17.8,469.8 25.5,466.0 C33.2,462.2 42.5,456.2 51.0,456.0 C59.5,455.8 68.0,462.8 76.5,465.0 C85.0,467.2 95.6,470.1 102.0,469.0 C108.4,467.9 112.0,463.3 115.0,458.6 C118.0,453.9 118.8,446.5 120.0,441.0 C121.2,435.5 121.7,428.1 122.0,425.5" stroke-width="7.4"/><path d="M158.0,466.0 C163.0,466.3 176.6,466.3 188.0,467.6 C199.4,468.9 215.8,472.1 226.5,474.0 C237.2,475.9 244.8,476.0 252.0,479.0 C259.2,482.0 264.1,486.9 270.0,492.0 C275.9,497.1 283.0,503.7 287.7,509.6 C292.4,515.5 295.4,521.1 298.0,527.5 C300.6,533.9 301.3,540.1 303.0,548.0 C304.7,555.9 307.2,570.5 308.0,575.0" stroke-width="7.7"/><path d="M240.5,324.4 C237.8,326.3 227.8,329.0 224.0,336.0 C220.2,343.0 218.9,357.2 217.6,366.5 C216.3,375.8 214.8,383.5 216.3,392.0 C217.8,400.5 223.1,409.0 226.5,417.5 C229.9,426.0 233.3,435.6 236.7,443.0 C240.1,450.4 245.3,458.8 247.0,462.0" stroke-width="4.6"/><path d="M271.0,299.0 C271.7,302.2 276.5,311.0 275.0,318.0 C273.5,325.0 264.2,331.7 262.0,341.0 C259.8,350.3 263.7,362.1 262.0,374.0 C260.3,385.9 254.3,401.4 252.0,412.4 C249.7,423.4 248.3,430.4 248.0,440.0 C247.7,449.6 248.1,459.7 250.0,470.0 C251.9,480.3 256.3,492.4 259.6,502.0 C262.9,511.6 266.6,519.5 270.0,527.5 C273.4,535.5 276.7,540.2 280.0,550.0 C283.3,559.8 288.3,580.0 290.0,586.0" stroke-width="5.4"/><path d="M282.6,313.0 C282.6,316.0 281.8,325.7 282.6,330.8 C283.5,335.9 288.6,337.1 287.7,343.5 C286.8,349.9 282.2,359.2 277.5,369.0 C272.8,378.8 264.2,392.7 259.6,402.0 C255.0,411.3 251.6,421.2 250.0,425.0" stroke-width="4.6"/><path d="M178.0,356.3 C181.0,358.9 190.5,365.7 196.0,371.6 C201.5,377.6 206.8,385.2 211.0,392.0 C215.2,398.8 218.0,406.4 221.4,412.4 C224.8,418.4 227.8,423.2 231.6,428.0 C235.4,432.8 241.9,438.8 244.0,441.0" stroke-width="4.4"/><path d="M150.0,374.0 C151.3,377.8 155.5,388.4 157.6,397.0 C159.7,405.6 159.7,417.3 162.7,425.5 C165.7,433.7 173.4,442.6 175.5,446.0" stroke-width="4.4"/><path d="M179.3,399.6 C180.8,402.6 184.8,411.1 188.0,417.5 C191.2,423.9 193.7,432.4 198.4,438.0 C203.1,443.6 209.6,445.8 216.0,451.0 C222.4,456.2 231.0,464.7 236.7,469.0 C242.4,473.3 247.8,475.7 250.0,477.0" stroke-width="4.4"/><path d="M150.0,441.0 C152.5,441.8 159.9,443.1 165.0,446.0 C170.1,448.9 173.8,453.5 180.6,458.6 C187.4,463.7 197.1,470.1 206.0,476.5 C214.9,482.9 225.5,489.8 234.0,497.0 C242.5,504.2 251.0,512.3 257.0,520.0 C263.0,527.7 265.8,533.8 270.0,543.0 C274.2,552.2 280.0,569.7 282.0,575.0" stroke-width="4.6"/><path d="M258.0,470.0 C260.8,472.0 269.7,477.0 275.0,482.0 C280.3,487.0 285.8,493.7 290.0,500.0 C294.2,506.3 298.3,516.7 300.0,520.0" stroke-width="3.3"/><path d="M308.0,532.6 C308.8,535.2 311.5,542.6 313.0,548.0 C314.5,553.4 316.3,562.2 317.0,565.0" stroke-width="3.8"/><path d="M259.6,545.0 C261.0,547.5 265.3,554.5 268.0,560.0 C270.7,565.5 274.7,575.0 276.0,578.0" stroke-width="3.8"/><path d="M10.0,560.0 C11.3,556.7 15.7,545.3 18.0,540.0 C20.3,534.7 23.0,530.0 24.0,528.0" stroke-width="3.8"/></g><g stroke="#F7A81C" stroke-width="1.1"><path d="M26.0,440.0 C26.7,442.5 30.3,450.0 30.0,455.0 C29.7,460.0 24.3,465.0 24.0,470.0 C23.7,475.0 28.7,480.0 28.0,485.0 C27.3,490.0 21.3,497.5 20.0,500.0"/><path d="M30.0,440.0 C29.0,442.7 23.8,451.0 24.0,456.0 C24.2,461.0 31.3,465.0 31.0,470.0 C30.7,475.0 23.5,483.3 22.0,486.0"/><path d="M252.0,470.0 C253.0,472.0 257.7,477.8 258.0,482.0 C258.3,486.2 253.3,490.3 254.0,495.0 C254.7,499.7 260.7,507.5 262.0,510.0"/><path d="M257.0,470.0 C256.2,472.3 251.5,479.7 252.0,484.0 C252.5,488.3 259.3,492.0 260.0,496.0 C260.7,500.0 256.7,506.0 256.0,508.0"/><path d="M70.0,462.0 C71.7,460.3 76.3,455.3 80.0,452.0 C83.7,448.7 90.0,443.7 92.0,442.0"/><path d="M262.0,402.0 C263.3,400.0 267.7,394.0 270.0,390.0 C272.3,386.0 275.0,380.0 276.0,378.0"/></g></g>
<path d="M3.0,302.0 C6.7,303.3 17.2,306.6 25.0,310.0 C32.8,313.4 41.7,317.9 50.0,322.5 C58.3,327.1 66.7,333.1 75.0,337.5 C83.3,341.9 92.5,346.2 100.0,349.0 C107.5,351.8 114.2,353.3 120.0,354.5 C125.8,355.7 130.0,356.4 135.0,356.0 C140.0,355.6 143.3,354.7 150.0,352.0 C156.7,349.3 166.7,344.2 175.0,340.0 C183.3,335.8 190.8,332.1 200.0,327.0 C209.2,321.9 221.7,314.3 230.0,309.5 C238.3,304.7 245.0,301.0 250.0,298.0 C255.0,295.0 256.7,293.4 260.0,291.5 C263.3,289.6 266.7,287.7 270.0,286.5 C273.3,285.3 277.0,284.4 280.0,284.3 C283.0,284.2 285.3,284.8 288.0,286.0 C290.7,287.2 293.7,289.2 296.0,291.4 C298.3,293.6 300.5,296.1 302.0,299.0 C303.5,301.9 304.4,305.0 305.0,308.5 C305.6,312.0 305.8,316.1 305.5,320.0 C305.2,323.9 304.2,327.2 303.0,332.0 C301.8,336.8 300.2,343.0 298.0,348.5 C295.8,354.0 292.2,359.8 290.0,365.0 C287.8,370.2 286.4,375.0 285.0,380.0 C283.6,385.0 282.3,389.7 281.5,395.0 C280.7,400.3 280.1,406.2 280.0,412.0 C279.9,417.8 280.2,424.2 281.0,430.0 C281.8,435.8 283.2,442.0 284.5,447.0 C285.8,452.0 286.9,455.7 288.5,460.0 C290.1,464.3 291.6,468.7 294.0,473.0 C296.4,477.3 300.0,481.3 302.7,486.0 C305.4,490.7 307.6,495.6 310.0,501.4 C312.4,507.2 314.6,514.1 317.0,521.0 C319.4,527.9 322.0,535.7 324.5,543.0 C327.0,550.3 329.5,557.4 332.0,564.6 C334.5,571.8 338.2,582.4 339.5,586.0" fill="none" stroke="#F81418" stroke-width="5.4" stroke-linejoin="round"/>
<path d="M275.0,586.0 C273.8,583.8 270.8,577.8 268.0,573.0 C265.2,568.2 261.3,562.2 258.0,557.0 C254.7,551.8 251.3,546.7 248.0,541.5 C244.7,536.3 242.5,531.1 238.0,526.0 C233.5,520.9 227.3,515.8 221.0,511.0 C214.7,506.2 207.2,501.3 200.0,497.5 C192.8,493.7 185.7,490.8 178.0,488.0 C170.3,485.2 161.8,482.6 154.0,481.0 C146.2,479.4 136.6,479.0 131.0,478.6 C125.4,478.2 125.7,478.2 120.5,478.4 C115.3,478.6 106.8,479.1 100.0,480.0 C93.2,480.9 86.7,481.8 80.0,484.0 C73.3,486.2 66.7,488.8 60.0,493.0 C53.3,497.2 45.0,504.2 40.0,509.0 C35.0,513.8 33.3,516.8 30.0,522.0 C26.7,527.2 23.2,532.8 20.0,540.0 C16.8,547.2 13.5,557.3 11.0,565.0 C8.5,572.7 6.0,582.5 5.0,586.0" fill="none" stroke="#F81418" stroke-width="5.4" stroke-linejoin="round"/>
<!-- black pointer arrow -->
<g filter="url(#sh)"><path d="M487.3,92.6 L444.6,134.2" stroke="#0b0b0b" stroke-width="5.4" fill="none"/><path d="M441,138.2 L441.3,128.3 L450.6,137.9 Z" fill="#0b0b0b"/></g>
<!-- Larger molecules box -->
<g filter="url(#sh)"><rect x="196" y="170.5" width="176.5" height="88" rx="2" fill="#C6D0CE"/><rect x="203" y="177" width="164" height="75" fill="#E496B8"/></g>
<text x="208" y="199" font-size="19" textLength="142" lengthAdjust="spacingAndGlyphs">Larger molecules</text>
<text x="208" y="222" font-size="19" textLength="138" lengthAdjust="spacingAndGlyphs">within the tooth,</text>
<text x="208" y="245" font-size="19" textLength="151" lengthAdjust="spacingAndGlyphs">more colour/stain</text>
<!-- Pigments -->
<g filter="url(#sh)"><path d="M492.4,121.3 H722.6 V178.3 H619.8 V217.6 A30,30 0 0 1 589.8,247.6 H486 V255 L468,238 L486,221.8 V229 H588.3 A13,13 0 0 0 601.3,216 V178.3 H492.4 Z" fill="#949A45"/></g>
<text x="565" y="148.4" font-size="19.5" textLength="85.5" lengthAdjust="spacingAndGlyphs">Pigments</text>
<text x="501.2" y="169.5" font-size="15.2" textLength="211.3" lengthAdjust="spacingAndGlyphs">Chromophore &amp; molecule(s)</text>
<!-- Metal compounds -->
<g filter="url(#sh)"><path d="M600.2,274 H788.4 V309.2 H600.2 V302.5 H489 V310.5 L471.5,293.3 L489,276 V284.2 H600.2 Z" fill="#C6D1CD"/></g>
<text x="608.7" y="301.2" font-size="20.5" textLength="169.5" lengthAdjust="spacingAndGlyphs">Metal compounds</text>
<!-- Dyes -->
<g filter="url(#sh)"><path d="M471,408 H600.3 V370.7 A10.5,10.5 0 0 0 589.8,360.2 H475.4 V366 L457.4,350 L475.4,334 V340.7 H590.2 A29,29 0 0 1 619.2,369.7 V408 H722 V486.8 H471 Z" fill="#E395B7"/></g>
<text x="574.8" y="434.6" font-size="19.5" textLength="44.6" lengthAdjust="spacingAndGlyphs">Dyes</text>
<text x="515" y="456.5" font-size="15.2" textLength="163.4" lengthAdjust="spacingAndGlyphs">Pigment with reactive</text>
<text x="494.7" y="478.4" font-size="15.2" textLength="203.3" lengthAdjust="spacingAndGlyphs">amine or hydroxyl group(s)</text>
<text x="503.5" y="82.4" font-size="19.5" textLength="198" lengthAdjust="spacingAndGlyphs">Interprismatic spaces</text>

</g>
<rect x="0" y="0" width="800" height="2.6" fill="#000"/><rect x="0" y="584.8" width="800" height="3.2" fill="#000"/><rect x="0" y="0" width="4.4" height="588" fill="#fff"/><rect x="0" y="0" width="2.7" height="588" fill="#000"/><rect x="797.3" y="0" width="2.7" height="588" fill="#000"/>
</svg>
</body></html>
